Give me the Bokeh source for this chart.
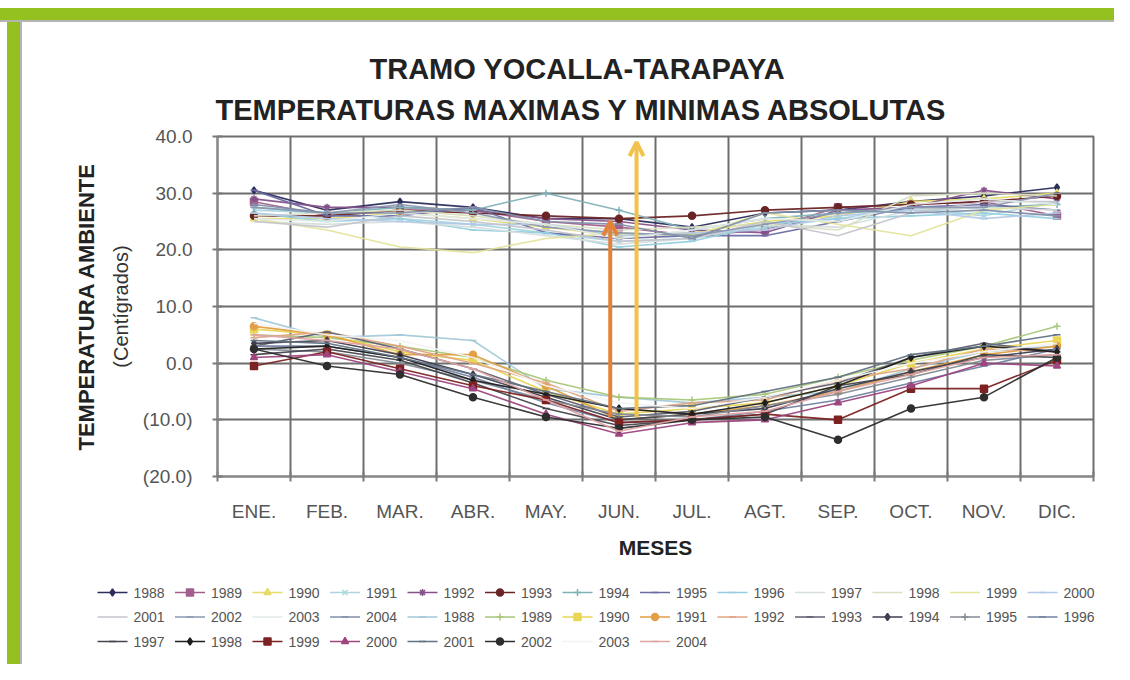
from bokeh.plotting import figure
from bokeh.layouts import column, row
from bokeh.models import (FixedTicker, Title, LinearAxis, Arrow, OpenHead, Range1d, Div)
from bokeh.core.properties import value
from bokeh.embed import file_html
from bokeh.resources import INLINE

# ---------------- data ----------------
months = ["ENE.", "FEB.", "MAR.", "ABR.", "MAY.", "JUN.", "JUL.", "AGT.", "SEP.", "OCT.", "NOV.", "DIC."]
years = ["1988", "1989", "1990", "1991", "1992", "1993", "1994", "1995", "1996",
         "1997", "1998", "1999", "2000", "2001", "2002", "2003", "2004"]

y_ticks = [-20, -10, 0, 10, 20, 30, 40]
y_tick_labels = ["(20.0)", "(10.0)", "0.0", "10.0", "20.0", "30.0", "40.0"]

t_max = {
    "1988": [30.5, 27.0, 28.5, 27.5, 25.5, 25.5, 24.0, 26.5, 27.0, 28.5, 29.5, 31.0],
    "1989": [28.5, 26.0, 27.0, 27.0, 25.0, 24.0, 22.5, 23.5, 27.5, 28.0, 28.5, 26.0],
    "1990": [25.5, 25.5, 26.5, 25.5, 24.0, 22.5, 23.0, 25.0, 26.0, 28.5, 29.0, 30.0],
    "1991": [27.0, 26.5, 25.5, 24.5, 23.0, 21.5, 22.0, 24.0, 25.5, 27.5, 26.0, 28.5],
    "1992": [29.0, 27.5, 27.5, 27.0, 25.5, 25.0, 23.5, 23.0, 27.0, 27.5, 30.5, 29.0],
    "1993": [26.0, 26.0, 27.0, 26.5, 26.0, 25.5, 26.0, 27.0, 27.5, 28.0, 28.5, 29.5],
    "1994": [27.5, 26.5, 27.5, 27.0, 30.0, 27.0, 23.5, 25.5, 26.5, 27.0, 27.5, 28.0],
    "1995": [30.5, 26.0, 26.0, 27.5, 23.0, 22.0, 22.5, 22.5, 25.0, 27.5, 28.0, 27.0],
    "1996": [26.5, 25.0, 25.5, 23.5, 23.0, 20.5, 21.5, 24.5, 25.5, 26.0, 26.5, 25.5],
    "1997": [25.0, 24.5, 25.0, 24.0, 22.5, 21.0, 22.0, 24.5, 24.0, 27.0, 27.5, 27.0],
    "1998": [26.0, 26.5, 27.0, 26.0, 24.5, 23.5, 24.0, 24.5, 23.5, 29.5, 30.0, 29.5],
    "1999": [25.5, 23.5, 20.5, 19.5, 22.0, 23.0, 22.5, 26.5, 24.5, 22.5, 27.0, 28.0],
    "2000": [26.5, 25.5, 25.0, 24.5, 24.5, 22.5, 23.0, 23.5, 26.0, 27.0, 25.5, 26.5],
    "2001": [25.0, 24.0, 26.0, 25.0, 23.5, 21.5, 22.0, 25.0, 22.5, 26.5, 28.5, 28.5],
    "2002": [27.5, 26.5, 28.0, 26.5, 24.0, 23.0, 22.5, 24.5, 26.5, 27.5, 27.5, 30.0],
    "2003": [25.5, 25.0, 26.5, 25.5, 24.5, 22.0, 23.5, 25.5, 25.0, 28.0, 29.0, 28.0],
    "2004": [28.0, 26.5, 26.5, 27.5, 25.0, 24.5, 22.0, 26.5, 27.0, 26.5, 27.0, 26.0],
}

t_min = {
    "1988": [8.0, 4.5, 5.0, 4.0, -4.5, -6.0, -7.0, -6.0, -5.0, -1.0, 2.0, 3.0],
    "1989": [5.0, 4.5, 3.0, 1.0, -3.0, -6.0, -6.5, -5.5, -2.5, 0.5, 3.0, 6.5],
    "1990": [6.0, 5.0, 2.0, 0.5, -5.0, -9.0, -8.0, -7.0, -4.0, 0.0, 2.5, 4.0],
    "1991": [6.5, 5.0, 1.5, 1.5, -4.0, -10.0, -9.0, -7.5, -5.0, -1.5, 1.5, 3.0],
    "1992": [4.5, 5.5, 3.0, 0.0, -3.5, -8.5, -7.0, -6.5, -3.0, -1.0, 2.5, 2.0],
    "1993": [3.0, 5.5, 2.5, -1.0, -5.5, -9.5, -8.5, -6.0, -3.5, 1.0, 3.5, 2.0],
    "1994": [3.5, 4.0, 1.5, -2.0, -6.0, -10.0, -9.0, -8.0, -4.5, -1.5, 1.0, 2.5],
    "1995": [2.5, 2.0, 0.0, -3.0, -6.5, -9.0, -9.5, -7.5, -5.5, -2.5, 0.5, 1.5],
    "1996": [3.0, 3.0, 1.0, -2.5, -7.0, -10.5, -10.0, -8.5, -6.5, -3.5, -0.5, 2.5],
    "1997": [1.5, 2.5, 0.5, -3.5, -8.0, -11.0, -10.0, -9.0, -4.0, -2.0, 1.5, 1.0],
    "1998": [2.5, 3.0, 1.0, -3.0, -5.5, -8.0, -9.0, -7.0, -4.0, 1.0, 3.0, 2.0],
    "1999": [-0.5, 2.0, -1.0, -4.0, -6.5, -10.5, -10.0, -9.0, -10.0, -4.5, -4.5, 0.5],
    "2000": [1.0, 1.5, -1.5, -4.5, -9.0, -12.5, -10.5, -10.0, -7.0, -4.0, 0.0, -0.5],
    "2001": [4.0, 3.5, 1.0, -2.0, -5.0, -8.0, -7.5, -5.0, -2.5, 1.5, 3.0, 5.0],
    "2002": [2.5, -0.5, -2.0, -6.0, -9.5, -11.5, -10.0, -9.5, -13.5, -8.0, -6.0, 1.0],
    "2003": [7.0, 5.0, 4.0, 1.0, -4.0, -7.0, -8.0, -6.0, -3.0, 0.0, 2.0, 3.5],
    "2004": [5.0, 4.0, 2.5, -1.0, -6.5, -12.0, -9.5, -8.5, -5.0, -2.0, 1.0, 1.5],
}

# series styles (colour, marker)
max_styles = [
    ("#2b2d5c", "diamond"), ("#a35f8c", "square"), ("#e6dc6a", "triangle"), ("#a9d6df", "x"),
    ("#86508a", "asterisk"), ("#6b2424", "circle"), ("#7fb2b8", "cross"), ("#6c6ca2", "dash"),
    ("#95cfdf", "dash"), ("#d6dddd", None), ("#d9dfc2", None), ("#e4e49c", None),
    ("#b3c9e6", "dash"), ("#c4c4cc", None), ("#8a99b2", "dash"), ("#e2e9e9", None),
    ("#8190a8", "dash"),
]
min_styles = [
    ("#a3c9d8", "dash"), ("#a9c77a", "cross"), ("#e8d654", "square"), ("#e29f45", "circle"),
    ("#e0a584", "dash"), ("#5f6070", "dash"), ("#3f3f50", "diamond"), ("#848b94", "cross"),
    ("#7282a2", "dash"), ("#45454c", "dash"), ("#1f1f1f", "diamond"), ("#7c2222", "square"),
    ("#9e4680", "triangle"), ("#627282", "dash"), ("#2e2e2e", "circle"), ("#f2f2f2", None),
    ("#e0a3a3", "dash"),
]

# arrows drawn at June (x position in month units, start/end temperatures)
arrow_x = [5.38, 5.74]
arrow_y0 = [-9.5, -9.5]
arrow_y1 = [25.0, 39.0]
arrow_colors = ["#e3823a", "#f2c24a"]

# ---------------- layout constants ----------------
GREEN = "#94c11f"
EDGE = "#b4b4b4"
FONT = "Liberation Sans"
W_MAIN, H_MAIN, H_LEG = 1092, 552, 90

xs = [i + 0.5 for i in range(len(months))]

# ---------------- main chart ----------------
p = figure(width=W_MAIN, height=H_MAIN, x_range=Range1d(0, 12), y_range=Range1d(-20, 40),
           output_backend="svg", toolbar_location=None, title=None,
           min_border_left=195, min_border_right=21, min_border_top=114, min_border_bottom=98,
           border_fill_color="white", background_fill_color="white",
           outline_line_color="#6e6e6e", outline_line_width=2)

p.add_layout(Title(text="TEMPERATURAS MAXIMAS Y MINIMAS ABSOLUTAS", align="left", offset=-2,
                   text_font=FONT, text_font_size="29px", text_font_style="bold",
                   text_color="#222222", standoff=21), "above")
p.add_layout(Title(text="TRAMO YOCALLA-TARAPAYA", align="left", offset=152,
                   text_font=FONT, text_font_size="29px", text_font_style="bold",
                   text_color="#222222", standoff=-7), "above")

p.xaxis.ticker = FixedTicker(ticks=xs, minor_ticks=list(range(13)))
p.xaxis.major_label_overrides = {x: m for x, m in zip(xs, months)}
p.xaxis.major_tick_line_color = None
p.xaxis.minor_tick_in = 5
p.xaxis.minor_tick_out = 5
p.xaxis.minor_tick_line_color = "#7a7a7a"
p.xaxis.minor_tick_line_width = 2
p.xaxis.axis_line_color = "#8a8a8a"
p.xaxis.axis_line_width = 2
p.xaxis.major_label_text_font = FONT
p.xaxis.major_label_text_font_size = "19px"
p.xaxis.major_label_text_color = "#555555"
p.xaxis.major_label_standoff = 18
p.xaxis.axis_label = "MESES"
p.xaxis.axis_label_text_font = FONT
p.xaxis.axis_label_text_font_size = "21px"
p.xaxis.axis_label_text_font_style = "bold"
p.xaxis.axis_label_text_color = "#222222"
p.xaxis.axis_label_standoff = 11

p.yaxis.ticker = FixedTicker(ticks=y_ticks)
p.yaxis.major_label_overrides = {t: s for t, s in zip(y_ticks, y_tick_labels)}
p.yaxis.minor_tick_line_color = None
p.yaxis.major_tick_in = 5
p.yaxis.major_tick_out = 5
p.yaxis.major_tick_line_color = "#7a7a7a"
p.yaxis.major_tick_line_width = 2
p.yaxis.axis_line_color = "#8a8a8a"
p.yaxis.axis_line_width = 2
p.yaxis.major_label_text_font = FONT
p.yaxis.major_label_text_font_size = "19px"
p.yaxis.major_label_text_color = "#555555"
p.yaxis.major_label_standoff = 20
p.yaxis.axis_label = "(Centígrados)"
p.yaxis.axis_label_text_font = FONT
p.yaxis.axis_label_text_font_size = "20px"
p.yaxis.axis_label_text_font_style = "normal"
p.yaxis.axis_label_text_color = "#333333"
p.yaxis.axis_label_standoff = 8

outer_axis = LinearAxis(ticker=FixedTicker(ticks=[]), axis_line_color=None,
                        major_tick_line_color=None, minor_tick_line_color=None,
                        axis_label="TEMPERATURA AMBIENTE", axis_label_standoff=8,
                        axis_label_text_font=FONT, axis_label_text_font_size="22px",
                        axis_label_text_font_style="bold", axis_label_text_color="#222222")
p.add_layout(outer_axis, "left")

p.xgrid.ticker = FixedTicker(ticks=list(range(13)))
p.xgrid.grid_line_color = "#6e6e6e"
p.xgrid.grid_line_width = 2
p.ygrid.grid_line_color = "#6e6e6e"
p.ygrid.grid_line_width = 2

series = []
for group, styles in ((t_max, max_styles), (t_min, min_styles)):
    for yr, (col, mk) in zip(years, styles):
        p.line(xs, group[yr], line_color=col, line_width=1.6, line_alpha=0.95)
        if mk is not None:
            p.scatter(xs, group[yr], marker=mk, size=7, line_color=col,
                      fill_color=col, line_width=1.5)
        series.append((yr, col, mk))

for ax, a0, a1, col in zip(arrow_x, arrow_y0, arrow_y1, arrow_colors):
    p.add_layout(Arrow(x_start=ax, y_start=a0, x_end=ax, y_end=a1,
                       line_color=col, line_width=4,
                       end=OpenHead(size=14, line_color=col, line_width=4)))

# ---------------- legend strip (13 entries per row) ----------------
lg = figure(width=W_MAIN, height=H_LEG, x_range=Range1d(0, W_MAIN), y_range=Range1d(H_LEG, 0),
            output_backend="svg", toolbar_location=None, title=None,
            min_border=0, min_border_left=0, min_border_right=0, min_border_top=0,
            min_border_bottom=0, x_axis_type=None, y_axis_type=None,
            border_fill_color="white", background_fill_color="white", outline_line_color=None)
lg.xgrid.visible = False
lg.ygrid.visible = False

for fig in (p, lg):
    if "frame_align" in fig.properties():
        fig.frame_align = False

NCOL, PITCH_X, PITCH_Y, X0, Y0, GW = 13, 77.5, 24.5, 75.0, 18.0, 30.0
for i, (yr, col, mk) in enumerate(series):
    r, c = divmod(i, NCOL)
    gx = X0 + c * PITCH_X
    gy = Y0 + r * PITCH_Y
    lg.line([gx, gx + GW], [gy, gy], line_color=col, line_width=1.6)
    if mk is not None:
        lg.scatter([gx + GW / 2], [gy], marker=mk, size=7, line_color=col, fill_color=col, line_width=1.5)
    lg.text([gx + GW + 6], [gy], text=[yr], text_font=value(FONT), text_font_size="14px",
            text_color="#555555", text_baseline="middle", text_align="left")

# ---------------- green frame ----------------
top_band = Div(text="", width=W_MAIN + 22, height=22, margin=0,
               styles={"background": f"linear-gradient(to bottom, #ffffff 0px, #ffffff 8px, {GREEN} 8px, {GREEN} 20px, {EDGE} 20px, {EDGE} 22px)"})
left_band1 = Div(text="", width=22, height=H_MAIN, margin=0,
                 styles={"background": f"linear-gradient(to right, #ffffff 0px, #ffffff 7px, {GREEN} 7px, {GREEN} 20px, {EDGE} 20px, {EDGE} 22px)"})
left_band2 = Div(text="", width=22, height=H_LEG, margin=0,
                 styles={"background": f"linear-gradient(to right, #ffffff 0px, #ffffff 7px, {GREEN} 7px, {GREEN} 20px, {EDGE} 20px, {EDGE} 22px)"})

layout = column(top_band,
                row(left_band1, p, spacing=0, margin=0),
                row(left_band2, lg, spacing=0, margin=0),
                spacing=0, margin=0)

open("out.html", "w").write(file_html(layout, INLINE))
